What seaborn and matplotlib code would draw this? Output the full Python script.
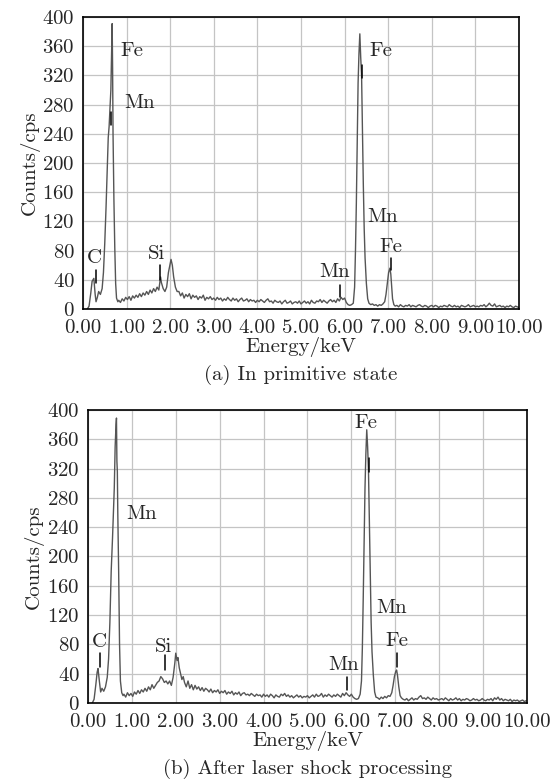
import numpy as np
import pandas as pd
import seaborn as sns
import matplotlib.pyplot as plt
from matplotlib.ticker import FormatStrFormatter, MultipleLocator

# ---- spectrum (a): in primitive state ----
a_low_e = [0.10, 0.14, 0.18, 0.21, 0.25, 0.28, 0.30, 0.33, 0.36, 0.40, 0.44, 0.47, 0.50, 0.53,
           0.56, 0.58, 0.60, 0.62, 0.64, 0.66, 0.67, 0.68, 0.69, 0.71, 0.73, 0.75, 0.77, 0.80]
a_low_c = [0, 4, 22, 38, 42, 20, 10, 16, 24, 20, 28, 50, 90, 140,
           200, 235, 250, 275, 300, 360, 391, 330, 240, 150, 84, 35, 15, 10]
a_bg1 = [12, 9, 14, 11, 16, 13, 17, 12, 18, 15, 19, 16, 21, 17, 22, 19, 24, 20, 26, 22, 28, 24]  # 0.82.. step 0.04
a_si_e = [1.70, 1.74, 1.78, 1.80, 1.84, 1.88, 1.92, 1.96, 2.00, 2.02, 2.05, 2.08, 2.12, 2.16]
a_si_c = [30, 26, 44, 36, 28, 24, 30, 50, 62, 68, 60, 44, 30, 24]
a_bg2 = [24, 18, 22, 15, 20, 17, 21, 14, 19, 16, 18, 13, 17, 15, 19, 12, 16, 14, 17, 13, 15,
         12, 16, 13, 15, 11, 14, 12, 16, 13, 11, 15, 12, 14, 10, 13, 15, 11, 12, 14, 10, 13, 11, 12, 9, 12,
         10, 13, 11, 9, 12, 14, 10, 11, 8, 12, 10, 9, 11, 7, 10, 12, 8, 9, 11, 7, 9, 10, 8, 11, 7,
         9, 11, 8, 10, 7, 12, 9, 8, 11, 10, 13, 9, 12, 10, 8, 11, 13, 10, 12, 9, 14, 11, 16, 13, 15, 9, 6, 5, 6]  # 2.20..
a_fe_e = [6.20, 6.23, 6.25, 6.27, 6.29, 6.31, 6.33, 6.35, 6.37, 6.39, 6.41, 6.43, 6.45, 6.47, 6.50, 6.53, 6.56]
a_fe_c = [8, 30, 80, 145, 230, 310, 350, 377, 345, 320, 240, 170, 110, 70, 35, 14, 8]
a_bg3 = [6, 7, 5, 6, 4, 6, 5, 7]  # 6.60..
a_kb_e = [6.92, 6.95, 6.98, 7.01, 7.04, 7.06, 7.08, 7.10, 7.13]
a_kb_c = [10, 20, 35, 50, 56, 48, 30, 14, 6]
a_bg4 = [4, 5, 3, 6, 4, 3, 5, 4, 6, 3, 5, 4, 3, 5, 6, 4, 3, 5, 4, 2, 4, 5,
         3, 5, 4, 2, 4, 3, 5, 4, 3, 6, 4, 3, 5, 3, 4, 2, 5, 4, 3, 4, 6, 3, 4, 5, 3,
         4, 3, 5, 4, 6, 3, 5, 8, 5, 4, 7, 3, 4, 5, 3, 4, 2, 4, 3, 5, 3, 2, 4, 3, 2]  # 7.16..

# ---- spectrum (b): after laser shock processing ----
b_low_e = [0.10, 0.14, 0.18, 0.21, 0.23, 0.26, 0.29, 0.32, 0.36, 0.40, 0.44, 0.47, 0.50, 0.53,
           0.56, 0.58, 0.60, 0.62, 0.64, 0.65, 0.66, 0.67, 0.68, 0.70, 0.72, 0.74, 0.77, 0.80]
b_low_c = [0, 5, 25, 42, 47, 30, 15, 20, 16, 22, 35, 60, 110, 180,
           225, 260, 293, 350, 380, 389, 330, 316, 260, 179, 80, 30, 14, 10]
b_bg1 = [12, 8, 14, 10, 13, 9, 15, 12, 17, 13, 18, 15, 20, 16, 22, 18, 25, 20, 24, 28]  # 0.82..
b_si_e = [1.62, 1.66, 1.70, 1.74, 1.78, 1.82, 1.86, 1.90, 1.94, 1.98, 2.00, 2.03, 2.05, 2.08, 2.11, 2.14, 2.17]
b_si_c = [30, 36, 33, 28, 30, 26, 30, 24, 35, 55, 68, 58, 62, 48, 40, 32, 36]
b_bg2 = [28, 22, 30, 20, 25, 18, 24, 19, 22, 17, 21, 16, 20, 18, 15, 19, 14, 17, 15, 18, 13,
         16, 14, 17, 12, 15, 13, 16, 11, 14, 12, 15, 10, 13, 14, 11, 12, 10, 13, 11, 9, 12, 10, 11, 8, 12,
         9, 11, 8, 12, 10, 7, 11, 9, 8, 12, 10, 13, 9, 11, 8, 10, 7, 9, 11, 8, 10, 7, 9, 8, 10,
         7, 9, 11, 8, 12, 9, 10, 13, 8, 11, 9, 12, 10, 8, 11, 9, 12, 10, 8, 13, 10, 14, 11, 9, 12, 8, 6, 5]  # 2.20..
b_fe_e = [6.16, 6.20, 6.23, 6.25, 6.27, 6.29, 6.31, 6.33, 6.35, 6.37, 6.39, 6.41, 6.43, 6.45, 6.47, 6.50, 6.53, 6.56]
b_fe_c = [6, 12, 30, 75, 143, 220, 293, 340, 373, 350, 316, 250, 180, 110, 70, 38, 15, 8]
b_bg3 = [7, 5, 8, 6, 9, 7, 10]  # 6.60..
b_kb_e = [6.88, 6.92, 6.95, 6.98, 7.01, 7.03, 7.05, 7.08, 7.11, 7.14]
b_kb_c = [9, 14, 24, 36, 43, 45, 38, 22, 10, 7]
b_bg4 = [5, 4, 6, 3, 5, 7, 4, 6, 5, 8, 10, 6, 7, 5, 8, 6, 4, 7, 5, 6, 4, 5,
         6, 4, 7, 5, 3, 6, 4, 5, 7, 4, 6, 3, 5, 4, 6, 5, 3, 4, 6, 4, 5, 3, 4, 6, 4,
         3, 5, 4, 6, 3, 7, 5, 8, 4, 6, 3, 5, 4, 3, 5, 2, 4, 3, 4, 2, 3, 4, 2, 3]  # 7.18..

# peak labels: (text, energy, counts), left anchored
a_labels = [("Fe", 0.87, 353), ("Mn", 0.94, 282), ("C", 0.10, 70), ("Si", 1.50, 75),
            ("Fe", 6.56, 353), ("Mn", 6.52, 126), ("Fe", 6.80, 85), ("Mn", 5.42, 51)]
a_marks = [(0.29, 36, 53), (0.64, 252, 270), (1.77, 40, 60), (5.89, 16, 33),
           (6.39, 316, 334), (7.06, 53, 70)]
b_labels = [("C", 0.08, 83), ("Si", 1.53, 76), ("Mn", 0.87, 258), ("Fe", 6.06, 382),
            ("Mn", 6.56, 130), ("Fe", 6.77, 85), ("Mn", 5.47, 52)]
b_marks = [(0.27, 49, 68), (1.75, 45, 65), (6.40, 315, 334), (7.04, 49, 68), (5.89, 18, 35)]


def regular(start, vals, step=0.04):
    return list(start + step * np.arange(len(vals)))


def build(low_e, low_c, bg1, si_e, si_c, bg2, fe_e, fe_c, bg3, kb_e, kb_c, bg4, b4_start):
    e = (low_e + regular(0.82, bg1) + si_e + regular(2.20, bg2) + fe_e
         + regular(6.60, bg3) + kb_e + regular(b4_start, bg4))
    c = low_c + bg1 + si_c + bg2 + fe_c + bg3 + kb_c + bg4
    return pd.DataFrame({"Energy": e, "Counts": c})


df_a = build(a_low_e, a_low_c, a_bg1, a_si_e, a_si_c, a_bg2, a_fe_e, a_fe_c,
             a_bg3, a_kb_e, a_kb_c, a_bg4, 7.16)
df_b = build(b_low_e, b_low_c, b_bg1, b_si_e, b_si_c, b_bg2, b_fe_e, b_fe_c,
             b_bg3, b_kb_e, b_kb_c, b_bg4, 7.18)

sns.set_style("whitegrid", {"grid.color": "#c4c4c4", "axes.edgecolor": "black"})
plt.rcParams['font.family'] = ['cmr10', 'DejaVu Serif']
plt.rcParams['axes.formatter.use_mathtext'] = True
plt.rcParams['mathtext.fontset'] = 'cm'

fs = 15
fig = plt.figure(figsize=(5.53, 7.79), dpi=100)
ax1 = fig.add_axes([0.150, 0.6033, 0.7885, 0.3748])
ax2 = fig.add_axes([0.159, 0.0976, 0.794, 0.3761])

panels = [(ax1, df_a, a_labels, a_marks, "(a) In primitive state"),
          (ax2, df_b, b_labels, b_marks, "(b) After laser shock processing")]

for ax, df, labels, marks, caption in panels:
    sns.lineplot(x="Energy", y="Counts", data=df, ax=ax, color="#555555",
                 linewidth=1.0, estimator=None, sort=False)
    ax.set_xlim(0, 10)
    ax.set_ylim(0, 400)
    ax.xaxis.set_major_locator(MultipleLocator(1))
    ax.yaxis.set_major_locator(MultipleLocator(40))
    ax.xaxis.set_major_formatter(FormatStrFormatter('%.2f'))
    ax.grid(True, color="#c4c4c4", linewidth=0.9)
    for s in ax.spines.values():
        s.set_color("black")
        s.set_linewidth(1.2)
    ax.tick_params(axis="both", which="major", direction="out", length=3, width=1,
                   color="black", labelsize=fs)
    ax.tick_params(axis="x", pad=4)
    ax.tick_params(axis="y", pad=3)
    ax.set_xlabel("Energy/keV", fontsize=fs, labelpad=0)
    ax.set_ylabel("Counts/cps", fontsize=fs, labelpad=2)
    for txt, ex, cy in labels:
        ax.text(ex, cy, txt, fontsize=fs, ha="left", va="center")
    for mx, y0, y1 in marks:
        ax.plot([mx, mx], [y0, y1], color="black", linewidth=1.1)
    bbox = ax.get_position()
    fig.text((bbox.x0 + bbox.x1) / 2, bbox.y0 - 0.085, caption, fontsize=fs,
             ha="center", va="center")

fig.savefig("out.png", dpi=100)
